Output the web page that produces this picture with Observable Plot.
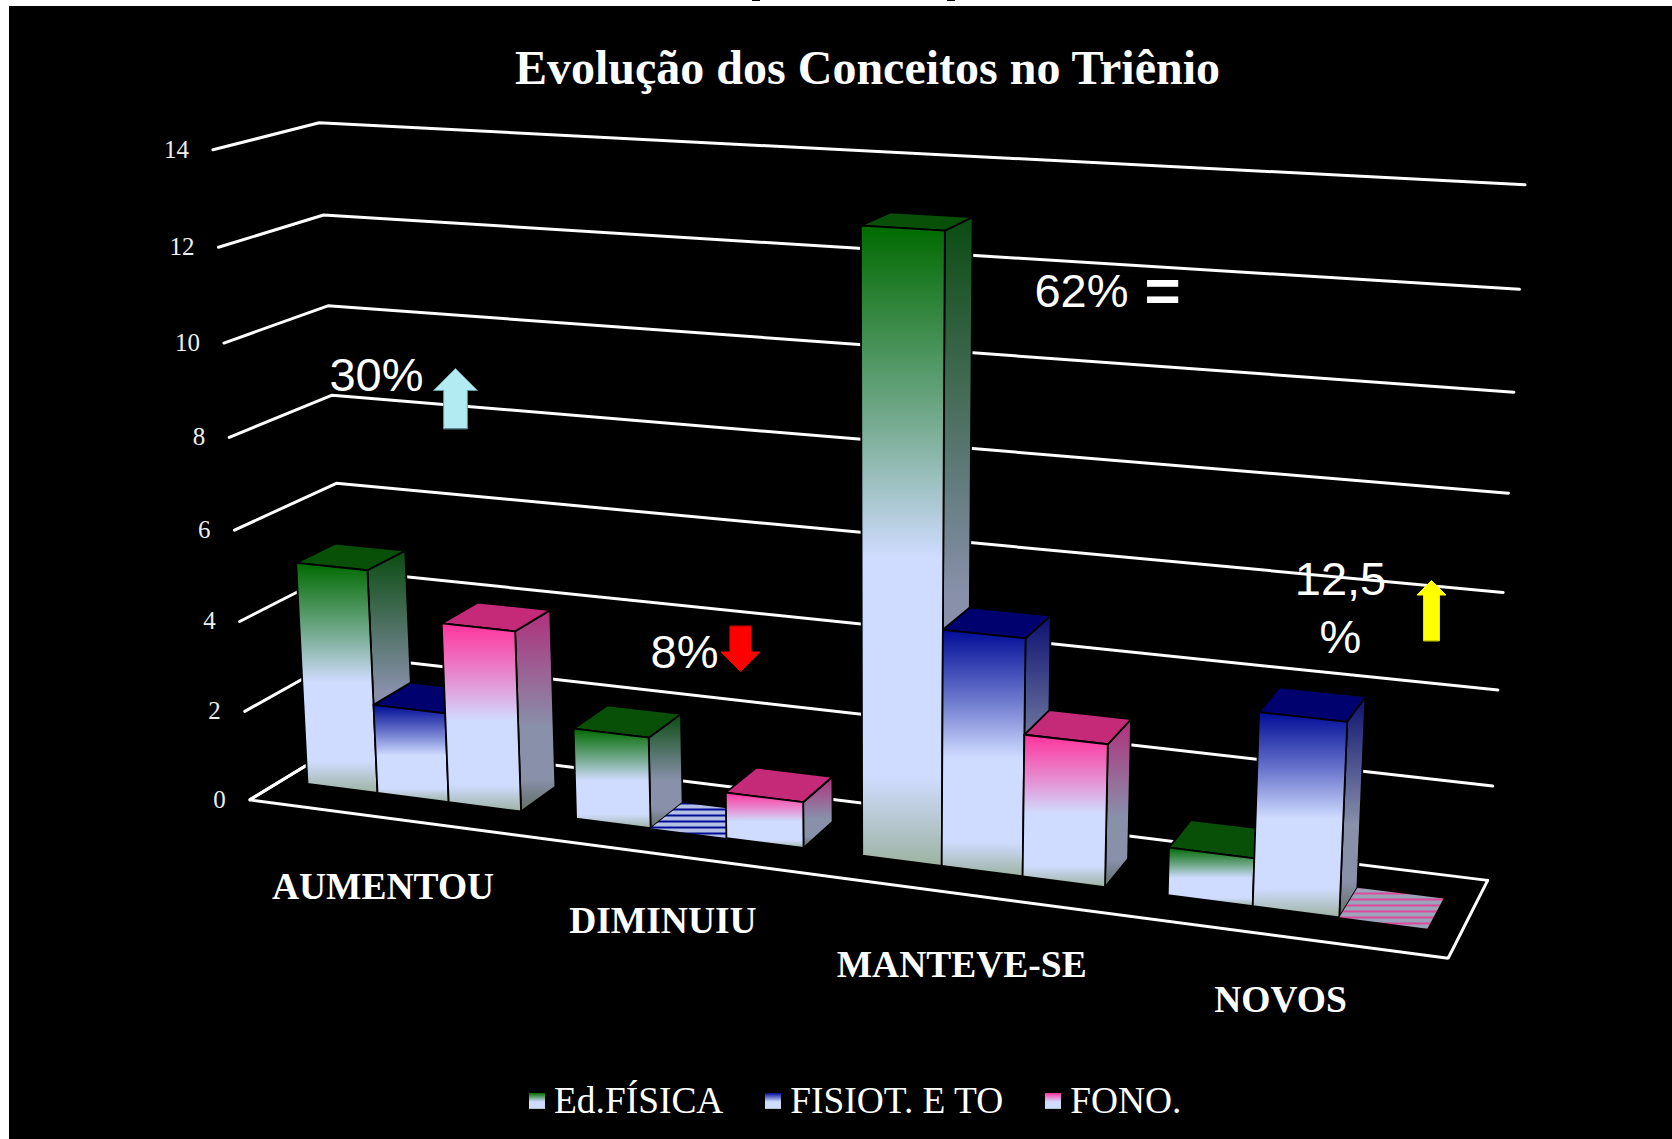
<!DOCTYPE html>
<html lang="pt">
<head>
<meta charset="utf-8">
<title>Evolução dos Conceitos no Triênio</title>
<script src="https://cdn.jsdelivr.net/npm/d3@7"></script>
<script src="https://cdn.jsdelivr.net/npm/@observablehq/plot@0.6"></script>
<style>
html,body{margin:0;padding:0;background:#fff;overflow:hidden;width:1672px;height:1139px}
#frame{position:absolute;left:9px;top:6px;width:1663px;height:1133px;background:#000;overflow:hidden}
#title{height:104px;box-sizing:border-box;padding:38px 0 0 54px;text-align:center;color:#fff;font:bold 48px/48px "Liberation Serif",serif}
#chart svg{display:block}
#legend{display:flex;align-items:center;padding:22px 0 0 520px;color:#fff;font:37.4px/37px "Liberation Serif",serif}
#legend .sw{width:16px;height:16px;margin-right:9px}
#legend .item{display:flex;align-items:center;margin-right:42px}
.speck{position:absolute;top:0;width:8px;height:1px;background:#000}
</style>
</head>
<body>
<div class="speck" style="left:752px"></div>
<div class="speck" style="left:947px"></div>
<div id="frame">
  <div id="title">Evolução dos Conceitos no Triênio</div>
  <div id="chart"></div>
  <div id="legend"></div>
</div>
<script>
// ---- data ----
const categories = ["AUMENTOU", "DIMINUIU", "MANTEVE-SE", "NOVOS"];
const seriesNames = ["Ed.FÍSICA", "FISIOT. E TO", "FONO."];
const edFisica = [5, 2, 13, 1];
const fisiotTo = [2, 0, 5, 4];
const fono = [4, 1, 3, 0];
const valueTicks = [0, 2, 4, 6, 8, 10, 12, 14];
const frontColors = ["#006a00", "#000c96", "#ff339c"];
const topColors = ["#084f08", "#00006e", "#c42a78"];
const sideColors = ["#0a4c10", "#0b1070", "#b02f7c"];
const hatchColors = ["#000c96", "#e0489a"];
const hatchPale = ["#b4bfe4", "#9aa5bc"];
const labelNudgeX = [3, 3, 3, 2];
const labelNudgeY = [12, 8, 13, 6];
const textNotes = [
  {text: "30%", x: 376, y: 372},
  {text: "8%", x: 684, y: 649},
  {text: "62%", x: 1081, y: 288},
  {text: "12,5\n%", x: 1340, y: 605}
];
const arrowNotes = [
  {x: 455, y: 428, length: 60, rotate: 0, r: 22, fill: "#b2ebf2", stroke: "#5f9aa6"},
  {x: 740, y: 626, length: 45, rotate: 180, r: 19.5, fill: "#ff0000", stroke: "#ff0000"},
  {x: 1431, y: 640, length: 60, rotate: 0, r: 14.5, fill: "#ffff00", stroke: "#ffff00"}
];
// camera calibration: [across, depth, value, pageX, pageY]
const calibration = [
  [0,0,14,213,149],[0,0,12,218,247],[0,0,10,223,342],[0,0,8,229,438],[0,0,6,234,530],[0,0,4,239,621],[0,0,2,243,711],[0,0,0,250,799],
  [0,1,14,318,123],[0,1,12,323,214],[0,1,10,328,305],[0,1,8,332,394],[0,1,6,336,483],
  [1,1,14,1524,184],[1,1,12,1519,289],[1,1,10,1514,391],[1,1,8,1509,493],[1,1,6,1502,592],[1,1,4,1497,690],[1,1,2,1491,786],[1,1,0,1488,880],
  [1,0,0,1448,957]
];
const pageLeft = 9, pageTop = 110, svgHeight = 950, svgWidth = 1663;

// ---- perspective camera fitted to the calibration ----
function solve(A, b) {
  const n = b.length, M = A.map((r, i) => [...r, b[i]]);
  for (let i = 0; i < n; i++) {
    let p = i;
    for (let k = i + 1; k < n; k++) if (Math.abs(M[k][i]) > Math.abs(M[p][i])) p = k;
    [M[i], M[p]] = [M[p], M[i]];
    for (let k = 0; k < n; k++) if (k !== i) {
      const f = M[k][i] / M[i][i];
      for (let j = i; j <= n; j++) M[k][j] -= f * M[i][j];
    }
  }
  return M.map((r, i) => r[n] / r[i]);
}
const camera = (() => {
  const rows = [], rhs = [];
  for (const [X, D, v, px, py] of calibration) {
    const V = v / 14, x = px / 1000, y = py / 1000;
    rows.push([X, D, V, 1, 0, 0, 0, 0, -x * X, -x * D, -x * V]); rhs.push(x);
    rows.push([0, 0, 0, 0, X, D, V, 1, -y * X, -y * D, -y * V]); rhs.push(y);
  }
  const N = rows[0].map((_, i) => rows[0].map((_, j) => d3.sum(rows, r => r[i] * r[j])));
  const m = rows[0].map((_, i) => d3.sum(rows, (r, k) => r[i] * rhs[k]));
  return solve(N, m);
})();
function project(X, D, v) {
  const V = v / 14, p = camera;
  const w = p[8] * X + p[9] * D + p[10] * V + 1;
  return {x: 1000 * (p[0] * X + p[1] * D + p[2] * V + p[3]) / w,
          y: 1000 * (p[4] * X + p[5] * D + p[6] * V + p[7]) / w};
}

// ---- bar geometry in chart units ----
const gapUnits = 0.75, clusterUnits = 3 + gapUnits, depthFront = 0.31, depthBack = 0.70;
const xAt = (c, s) => (c + (gapUnits / 2 + s) / clusterUnits) / categories.length;
const allSeries = [edFisica, fisiotTo, fono];

const poly = (...corners) => {
  const pts = corners.map(([X, D, v]) => project(X, D, v));
  return [...pts, pts[0]];
};
const face = (pts, fill, extra = {}) =>
  Plot.line(pts, {x: "x", y: "y", fill, stroke: "#000", strokeWidth: 1.8, strokeLinejoin: "round", ...extra});

const barMarks = categories.flatMap((_, c) => allSeries.flatMap((values, s) => {
  const v = values[c], x0 = xAt(c, s), x1 = xAt(c, s + 1), d0 = depthFront, d1 = depthBack;
  if (v === 0) {
    return [face(poly([x0, d0, 0], [x1, d0, 0], [x1, d1, 0], [x0, d1, 0]), `url(#hatch${s})`, {stroke: "none"})];
  }
  return [
    face(poly([x1, d0, 0], [x1, d1, 0], [x1, d1, v], [x1, d0, v]), `url(#side${s})`),
    face(poly([x0, d0, v], [x1, d0, v], [x1, d1, v], [x0, d1, v]), topColors[s]),
    face(poly([x0, d0, 0], [x1, d0, 0], [x1, d0, v], [x0, d0, v]), `url(#front${s})`)
  ];
}));

// ---- gradient and hatch definitions ----
function defsMark() {
  const defs = d3.create("svg:defs");
  const grad = (id, stops) => {
    const g = defs.append("linearGradient").attr("id", id).attr("x1", 0).attr("y1", 0).attr("x2", 0).attr("y2", 1);
    for (const [o, c] of stops) g.append("stop").attr("offset", o).attr("stop-color", c);
  };
  seriesNames.forEach((_, s) => {
    grad(`front${s}`, [[0, frontColors[s]], [0.3, d3.interpolateRgb(frontColors[s], "#d0dcff")(0.55)], [0.52, "#d0dcff"], [0.86, "#d0dcff"], [1, "#9db3a2"]]);
    grad(`side${s}`, [[0, sideColors[s]], [0.58, "#8890aa"], [0.84, "#8890aa"], [1, "#5f6d60"]]);
  });
  [1, 2].forEach(s => {
    const i = s - 1;
    const p = defs.append("pattern").attr("id", `hatch${s}`).attr("patternUnits", "userSpaceOnUse").attr("width", 40).attr("height", 6);
    p.append("rect").attr("width", 40).attr("height", 6).attr("fill", hatchPale[i]);
    p.append("rect").attr("y", 2).attr("width", 40).attr("height", 2).attr("fill", hatchColors[i]);
  });
  return defs.node();
}

// ---- wall and floor lines ----
const gridLines = valueTicks.map(v => [project(0, 0, v), project(0, 1, v), project(1, 1, v)]);
const floorEdge = [project(0, 1, 0), project(0, 0, 0), project(1, 0, 0), project(1, 1, 0)];
const lineStyle = {x: "x", y: "y", stroke: "#fff", strokeWidth: 3, strokeLinejoin: "miter"};

const arrowShape = {
  draw(ctx, l, r) {
    const half = 0.54 * r;
    ctx.moveTo(-half, 0);
    ctx.lineTo(-half, -(l - r));
    ctx.lineTo(-r, -(l - r));
    ctx.lineTo(0, -l);
    ctx.lineTo(r, -(l - r));
    ctx.lineTo(half, -(l - r));
    ctx.lineTo(half, 0);
    ctx.closePath();
  }
};

const tickRows = valueTicks.map(v => ({v, ...project(0, 0, v)}));
const labelRows = categories.map((name, c) => {
  const p = project((c + 0.5) / categories.length, -0.03, 0);
  return {name, x: p.x + labelNudgeX[c], y: p.y + labelNudgeY[c]};
});

const chart = Plot.plot({
  width: svgWidth,
  height: svgHeight,
  margin: 0,
  style: {background: "transparent", overflow: "visible"},
  x: {domain: [pageLeft, pageLeft + svgWidth], range: [0, svgWidth], axis: null},
  y: {domain: [pageTop, pageTop + svgHeight], range: [0, svgHeight], axis: null},
  marks: [
    defsMark,
    ...gridLines.map(pts => Plot.line(pts, lineStyle)),
    Plot.line(floorEdge, lineStyle),
    ...barMarks,
    Plot.text(tickRows, {x: "x", y: "y", text: d => String(d.v), dx: -24, textAnchor: "end", fill: "#eeeeee",
      fontFamily: "Liberation Serif", fontSize: 25}),
    Plot.text(labelRows, {x: "x", y: "y", text: "name", dy: 56, fill: "#fff",
      fontFamily: "Liberation Serif", fontWeight: "bold", fontSize: 37.5}),
    Plot.text(textNotes, {x: "x", y: "y", text: "text", fill: "#fff", lineHeight: 1.24,
      fontFamily: "Liberation Sans", fontSize: 47}),
    Plot.text([{text: "=", x: 1162, y: 292}], {x: "x", y: "y", text: "text", fill: "#fff",
      fontFamily: "Liberation Sans", fontWeight: "bold", fontSize: 62}),
    ...arrowNotes.map(a => Plot.vector([a], {x: "x", y: "y", length: a.length, rotate: a.rotate, r: a.r,
      anchor: "start", shape: arrowShape, fill: a.fill, stroke: a.stroke, strokeWidth: 1}))
  ]
});
document.getElementById("chart").append(chart);

// ---- legend ----
const legend = d3.select("#legend");
seriesNames.forEach((name, s) => {
  const item = legend.append("div").attr("class", "item");
  item.append("div").attr("class", "sw")
    .style("background", `linear-gradient(${frontColors[s]} 0%, #d0dcff 55%, #d0dcff 92%, #9db3a2 100%)`);
  item.append("span").text(name);
});
</script>
</body>
</html>
